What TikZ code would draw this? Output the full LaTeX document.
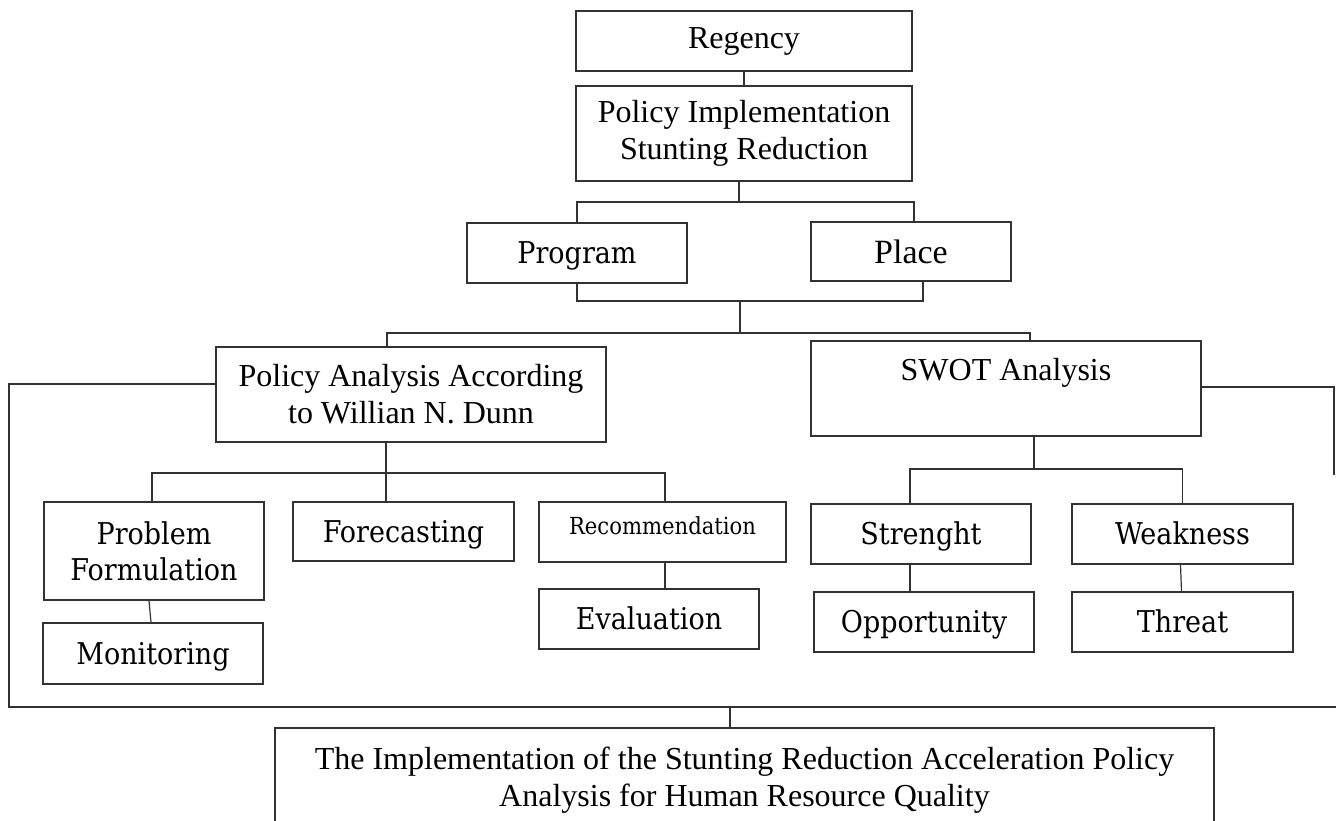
\documentclass[tikz,border=0pt]{standalone}
\usepackage{fontspec}
\setmainfont{Liberation Serif}
\newfontfamily\geofont{DejaVu Serif Condensed}
\usetikzlibrary{calc}
\begin{document}
\begin{tikzpicture}[x=1pt,y=-1pt,
  box/.style={draw=black!80, line width=1.3pt, inner sep=0pt, align=center,
              font=\fontsize{32}{37}\selectfont},
  gbox/.style={box, font=\geofont\fontsize{30}{36}\selectfont},
  gone/.style={gbox, text height=21.6pt, text depth=0pt},
  txt/.style={inner sep=0pt, anchor=base},
  link/.style={draw=black!80, line width=1.2pt}]
\useasboundingbox (0,0) rectangle (1336,820);
\fill[white] (0,0) rectangle (1336,820);

% boxes
\node[box, minimum width=336pt, minimum height=60pt] (reg) at (744,41) {Regency};
\node[box, minimum width=336pt, minimum height=95pt] (pi) at (744,133.5) {Policy Implementation\\Stunting Reduction};
\node[gone, minimum width=220pt, minimum height=60pt] (prog) at (577,253) {Program};
\node[box, font=\fontsize{34}{40}\selectfont, minimum width=200pt, minimum height=59pt] (place) at (911,251.5) {Place};
\node[box, minimum width=390pt, minimum height=95pt] (pa) at (411,394.5) {Policy Analysis According\\to Willian N. Dunn};
\node[box, minimum width=390pt, minimum height=95pt] (swot) at (1006,388.5) {};
\node[txt, font=\fontsize{32}{37}\selectfont] (swottxt) at (1006,380) {SWOT Analysis};
\node[gbox, minimum width=220pt, minimum height=98pt] (pf) at (154,551) {Problem\\Formulation};
\node[gone, minimum width=221pt, minimum height=59pt] (fc) at (403.5,531.5) {Forecasting};
\node[box, minimum width=247pt, minimum height=60pt] (rec) at (662.5,532) {};
\node[txt, font=\geofont\fontsize{23.5}{28}\selectfont] (rectxt) at (662.5,534) {Recommendation};
\node[gone, minimum width=220pt, minimum height=60pt] (eval) at (649,619) {Evaluation};
\node[gone, minimum width=220pt, minimum height=61pt] (mon) at (153,653.5) {Monitoring};
\node[gone, minimum width=220pt, minimum height=60pt] (str) at (921,534) {Strenght};
\node[gone, minimum width=221pt, minimum height=60pt] (weak) at (1182.5,534) {Weakness};
\node[gone, minimum width=220pt, minimum height=60pt] (opp) at (924,622) {Opportunity};
\node[gone, minimum width=221pt, minimum height=60pt] (thr) at (1182.5,622) {Threat};
\node[box, minimum width=939pt, minimum height=105pt] (final) at (744.5,780.5) {The Implementation of the Stunting Reduction Acceleration Policy\\Analysis for Human Resource Quality};

% connectors, top part
\draw[link] (reg.south) -- (pi.north);
\coordinate (j1) at (739,202);
\draw[link] (j1 |- pi.south) -- (j1);
\draw[link] (prog.north) |- (j1) -| ($(place.north)+(3,0)$);
\coordinate (j2) at (740,301);
\draw[link] (prog.south) |- (j2) -| ($(place.south)+(12,0)$);
\coordinate (j3) at (740,333);
\draw[link] (j2) -- (j3);
\draw[link] ($(pa.north)+(-24,0)$) |- (j3) -| ($(swot.north)+(24,0)$);

% outer bracket
\coordinate (lb) at (9,707);
\coordinate (rb) at (1336,707);
\draw[link] ($(pa.west)+(0,-10.5)$) -| (lb) -- (rb);
\coordinate (re) at (1334,475);
\draw[link] ($(swot.east)+(0,-1.5)$) -| (re);
\coordinate (j5) at (730,707);
\draw[link] (j5) -- (j5 |- final.north);

% policy analysis subtree
\coordinate (j4) at (386,473);
\draw[link] (j4 |- pa.south) -- (j4);
\draw[link] ($(pf.north)+(-2,0)$) |- (j4) -| ($(rec.north)+(2.5,0)$);
\draw[link] (j4) -- (j4 |- fc.north);
\draw[link] ($(pf.south)+(-5,0)$) -- ($(mon.north)+(-2,0)$);
\coordinate (rs) at ($(rec.south)+(2.5,0)$);
\draw[link] (rs) -- (rs |- eval.north);

% SWOT subtree
\coordinate (j6) at (1034,469);
\draw[link] (j6 |- swot.south) -- (j6);
\draw[link] ($(str.north)+(-11,0)$) |- (j6) -| (weak.north);
\coordinate (ss) at ($(str.south)+(-11,0)$);
\draw[link] (ss) -- (ss |- opp.north);
\draw[link] ($(weak.south)+(-2,0)$) -- ($(thr.north)+(-1,0)$);
\end{tikzpicture}
\end{document}
